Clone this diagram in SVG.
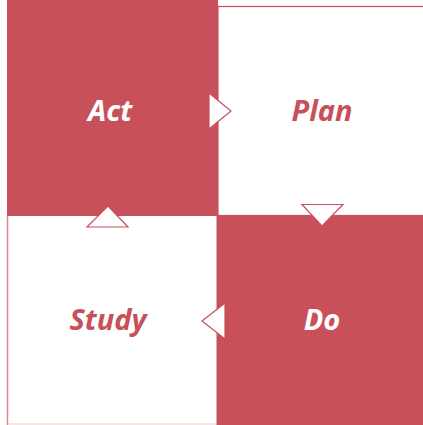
<svg xmlns="http://www.w3.org/2000/svg" width="423" height="425" viewBox="0 0 423 425">
  <style>
    .fill { fill: #C8505A; }
    .open { fill: #FFFFFF; stroke: #C8505A; stroke-width: 1.2; }
    .lbl { font-family: "Open Sans", "Liberation Sans", sans-serif; font-size: 29px; font-weight: bold; font-style: italic; text-anchor: middle; }
    .on-red { fill: #FFFFFF; }
    .on-white { fill: #C8505A; }
    .arrow { fill: #FFFFFF; stroke: #C8505A; stroke-width: 1.2; stroke-linejoin: miter; }
  </style>
  <rect width="423" height="425" fill="#FFFFFF"/>

  <g id="plan">
    <rect class="open" x="218" y="6.5" width="210" height="209"/>
    <text class="lbl on-white" x="322" y="121">Plan</text>
  </g>
  <g id="study">
    <rect x="7" y="216" width="210" height="208" fill="#FFFFFF"/>
    <line x1="7.5" y1="216" x2="7.5" y2="425" stroke="#D98890" stroke-width="1.5"/>
    <line x1="8" y1="424" x2="217" y2="424" stroke="#F6DDE0" stroke-width="1.5"/>
    <text class="lbl on-white" x="108" y="330">Study</text>
  </g>
  <g id="act">
    <rect class="fill" x="7" y="0" width="211" height="216"/>
    <text class="lbl on-red" x="110" y="121">Act</text>
  </g>
  <g id="do">
    <rect class="fill" x="216.5" y="215" width="206.5" height="210"/>
    <text class="lbl on-red" x="322" y="330">Do</text>
  </g>

  <g id="connectors">
    <polygon class="arrow" points="209,93 231,111 209,129"/>
    <polygon class="arrow" points="302,204.5 343,204.5 322,226"/>
    <polygon class="arrow" points="202,321 225,303 225,339"/>
    <polygon class="arrow" points="87,227 128,227 108,206"/>
  </g>
</svg>
